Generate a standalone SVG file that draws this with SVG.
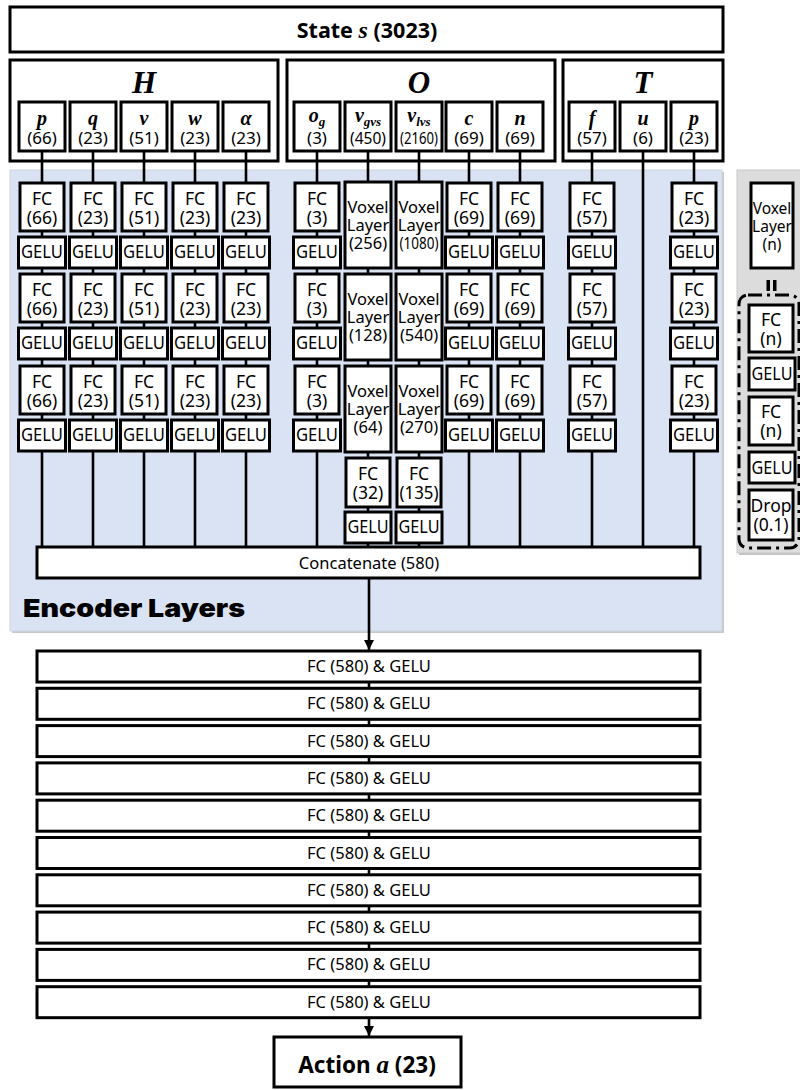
<svg xmlns="http://www.w3.org/2000/svg" width="800" height="1090" viewBox="0 0 800 1090">
<style>
.bx{fill:#fff;stroke:#000;stroke-width:3}
.ln{stroke:#000;stroke-width:2.6;fill:none}
.t{font-family:"Noto Sans","Open Sans",sans-serif;font-size:17.5px;text-anchor:middle;fill:#000}
.w{font-family:"Noto Sans","Open Sans",sans-serif;font-size:16.5px;text-anchor:middle;fill:#000}
.v{font-family:"Noto Sans","Open Sans",sans-serif;font-size:16.5px;text-anchor:middle;fill:#000}
.ts{font-family:"Noto Sans","Open Sans",sans-serif;font-size:17px;text-anchor:middle;fill:#000}
.m{font-family:"Liberation Serif",serif;font-style:italic;font-weight:bold;text-anchor:middle;fill:#000}
.big{font-family:"Noto Sans","Open Sans",sans-serif;font-weight:bold;text-anchor:middle;fill:#000}
</style>
<defs>
<marker id="ah" markerUnits="userSpaceOnUse" markerWidth="10" markerHeight="10" refX="10" refY="5" orient="auto" viewBox="0 0 10 10">
<path d="M0,0 L10,5 L0,10 Z" fill="#000"/>
</marker>
</defs>

<g id="state">
<rect class="bx" x="10" y="7" width="713" height="45"/>
<text class="big" x="367" y="38" font-size="21.5">State <tspan font-family="Liberation Serif,serif" font-style="italic" font-size="24">s</tspan> (3023)</text>
</g>

<g id="group-H"><rect class="bx" x="10" y="60" width="268" height="101"/><text class="m" x="144" y="93" font-size="31">H</text></g>
<g id="group-O"><rect class="bx" x="287" y="60" width="268" height="101"/><text class="m" x="419" y="93" font-size="31">O</text></g>
<g id="group-T"><rect class="bx" x="563" y="60" width="160" height="101"/><text class="m" x="643" y="93" font-size="31">T</text></g>

<g id="encoder-bg">
<rect x="12" y="172" width="712" height="461" fill="#c8c8c8"/>
<rect x="10" y="170" width="712" height="461" fill="#dae3f3" stroke="#cdd5e3" stroke-width="1"/>
<text x="23" y="617" font-family="Inter,'Liberation Sans',sans-serif" font-weight="900" font-size="25" textLength="222" lengthAdjust="spacingAndGlyphs" fill="#000">Encoder Layers</text>
</g>

<g id="legend">
<rect x="739" y="172" width="70" height="383" fill="#c4c4c4"/>
<rect x="737" y="170" width="70" height="383" fill="#dcdcdc" stroke="#c8c8c8" stroke-width="1"/>
<rect x="739" y="295" width="60" height="253" rx="9" fill="none" stroke="#000" stroke-width="3" stroke-dasharray="14,5,3,5"/>
<rect x="766.5" y="280" width="3.5" height="11" fill="#000"/>
<rect x="773" y="280" width="3.5" height="11" fill="#000"/>
<rect class="bx" x="751" y="183" width="42" height="85"/>
<text class="v" x="772" y="214" style="font-size:15.5px">Voxel</text>
<text class="v" x="772" y="232" style="font-size:15.5px">Layer</text>
<text class="v" x="772" y="250" style="font-size:15.5px">(n)</text>
<rect class="bx" x="749" y="305" width="44" height="47"/>
<text class="t" x="771" y="326">FC</text><text class="t" x="771" y="345">(n)</text>
<rect class="bx" x="749" y="358" width="46" height="32"/>
<text class="t" x="772" y="380" textLength="41" lengthAdjust="spacingAndGlyphs">GELU</text>
<rect class="bx" x="749" y="397" width="44" height="48"/>
<text class="t" x="771" y="418">FC</text><text class="t" x="771" y="437">(n)</text>
<rect class="bx" x="749" y="452" width="46" height="31"/>
<text class="t" x="772" y="474" textLength="41" lengthAdjust="spacingAndGlyphs">GELU</text>
<rect class="bx" x="749" y="490" width="44" height="50"/>
<text class="t" x="771" y="512">Drop</text><text class="t" x="771" y="531">(0.1)</text>
</g>

<g id="connectors">
<line class="ln" x1="42" y1="151" x2="42" y2="547"/>
<line class="ln" x1="93" y1="151" x2="93" y2="547"/>
<line class="ln" x1="144" y1="151" x2="144" y2="547"/>
<line class="ln" x1="195" y1="151" x2="195" y2="547"/>
<line class="ln" x1="246" y1="151" x2="246" y2="547"/>
<line class="ln" x1="317" y1="151" x2="317" y2="547"/>
<line class="ln" x1="368" y1="151" x2="368" y2="547"/>
<line class="ln" x1="419" y1="151" x2="419" y2="547"/>
<line class="ln" x1="469" y1="151" x2="469" y2="547"/>
<line class="ln" x1="520" y1="151" x2="520" y2="547"/>
<line class="ln" x1="592" y1="151" x2="592" y2="547"/>
<line class="ln" x1="643" y1="151" x2="643" y2="547"/>
<line class="ln" x1="694" y1="151" x2="694" y2="547"/>
<line class="ln" x1="369" y1="578" x2="369" y2="650" marker-end="url(#ah)"/>
<line class="ln" x1="369" y1="682" x2="369" y2="1036" marker-end="url(#ah)"/>
</g>

<g id="h-p"><rect class="bx" x="19" y="102" width="46" height="49"/><text class="m" x="42" y="125" font-size="20">p</text><text class="ts" x="42" y="144">(66)</text></g>
<g id="h-q"><rect class="bx" x="70" y="102" width="46" height="49"/><text class="m" x="93" y="125" font-size="20">q</text><text class="ts" x="93" y="144">(23)</text></g>
<g id="h-v"><rect class="bx" x="121" y="102" width="46" height="49"/><text class="m" x="144" y="125" font-size="20">v</text><text class="ts" x="144" y="144">(51)</text></g>
<g id="h-w"><rect class="bx" x="172" y="102" width="46" height="49"/><text class="m" x="195" y="125" font-size="20">w</text><text class="ts" x="195" y="144">(23)</text></g>
<g id="h-alpha"><rect class="bx" x="223" y="102" width="46" height="49"/><text class="m" x="246" y="125" font-size="20">α</text><text class="ts" x="246" y="144">(23)</text></g>
<g id="o-og"><rect class="bx" x="294" y="102" width="46" height="49"/><text class="m" x="317" y="122" font-size="20">o<tspan font-size="13" dy="4">g</tspan></text><text class="ts" x="317" y="144">(3)</text></g>
<g id="o-vgvs"><rect class="bx" x="345" y="102" width="46" height="49"/><text class="m" x="368" y="122" font-size="20">v<tspan font-size="13" dy="4">gvs</tspan></text><text class="ts" x="368" y="144" textLength="36" lengthAdjust="spacingAndGlyphs">(450)</text></g>
<g id="o-vlvs"><rect class="bx" x="396" y="102" width="46" height="49"/><text class="m" x="419" y="122" font-size="20">v<tspan font-size="13" dy="4">lvs</tspan></text><text class="ts" x="419" y="144" textLength="38" lengthAdjust="spacingAndGlyphs">(2160)</text></g>
<g id="o-c"><rect class="bx" x="446" y="102" width="46" height="49"/><text class="m" x="469" y="125" font-size="20">c</text><text class="ts" x="469" y="144">(69)</text></g>
<g id="o-n"><rect class="bx" x="497" y="102" width="46" height="49"/><text class="m" x="520" y="125" font-size="20">n</text><text class="ts" x="520" y="144">(69)</text></g>
<g id="t-f"><rect class="bx" x="569" y="102" width="46" height="49"/><text class="m" x="592" y="125" font-size="20">f</text><text class="ts" x="592" y="144">(57)</text></g>
<g id="t-u"><rect class="bx" x="620" y="102" width="46" height="49"/><text class="m" x="643" y="125" font-size="20">u</text><text class="ts" x="643" y="144">(6)</text></g>
<g id="t-p"><rect class="bx" x="671" y="102" width="46" height="49"/><text class="m" x="694" y="125" font-size="20">p</text><text class="ts" x="694" y="144">(23)</text></g>

<g id="col-h-p">
<rect class="bx" x="20" y="183" width="44" height="48"/><text class="t" x="42" y="205">FC</text><text class="t" x="42" y="224">(66)</text>
<rect class="bx" x="18.5" y="237" width="47" height="31"/><text class="t" x="42" y="258" textLength="42" lengthAdjust="spacingAndGlyphs">GELU</text>
<rect class="bx" x="20" y="274" width="44" height="48"/><text class="t" x="42" y="296">FC</text><text class="t" x="42" y="315">(66)</text>
<rect class="bx" x="18.5" y="328" width="47" height="31"/><text class="t" x="42" y="349" textLength="42" lengthAdjust="spacingAndGlyphs">GELU</text>
<rect class="bx" x="20" y="366" width="44" height="48"/><text class="t" x="42" y="388">FC</text><text class="t" x="42" y="407">(66)</text>
<rect class="bx" x="18.5" y="420" width="47" height="31"/><text class="t" x="42" y="441" textLength="42" lengthAdjust="spacingAndGlyphs">GELU</text>
</g>
<g id="col-h-q">
<rect class="bx" x="71" y="183" width="44" height="48"/><text class="t" x="93" y="205">FC</text><text class="t" x="93" y="224">(23)</text>
<rect class="bx" x="69.5" y="237" width="47" height="31"/><text class="t" x="93" y="258" textLength="42" lengthAdjust="spacingAndGlyphs">GELU</text>
<rect class="bx" x="71" y="274" width="44" height="48"/><text class="t" x="93" y="296">FC</text><text class="t" x="93" y="315">(23)</text>
<rect class="bx" x="69.5" y="328" width="47" height="31"/><text class="t" x="93" y="349" textLength="42" lengthAdjust="spacingAndGlyphs">GELU</text>
<rect class="bx" x="71" y="366" width="44" height="48"/><text class="t" x="93" y="388">FC</text><text class="t" x="93" y="407">(23)</text>
<rect class="bx" x="69.5" y="420" width="47" height="31"/><text class="t" x="93" y="441" textLength="42" lengthAdjust="spacingAndGlyphs">GELU</text>
</g>
<g id="col-h-v">
<rect class="bx" x="122" y="183" width="44" height="48"/><text class="t" x="144" y="205">FC</text><text class="t" x="144" y="224">(51)</text>
<rect class="bx" x="120.5" y="237" width="47" height="31"/><text class="t" x="144" y="258" textLength="42" lengthAdjust="spacingAndGlyphs">GELU</text>
<rect class="bx" x="122" y="274" width="44" height="48"/><text class="t" x="144" y="296">FC</text><text class="t" x="144" y="315">(51)</text>
<rect class="bx" x="120.5" y="328" width="47" height="31"/><text class="t" x="144" y="349" textLength="42" lengthAdjust="spacingAndGlyphs">GELU</text>
<rect class="bx" x="122" y="366" width="44" height="48"/><text class="t" x="144" y="388">FC</text><text class="t" x="144" y="407">(51)</text>
<rect class="bx" x="120.5" y="420" width="47" height="31"/><text class="t" x="144" y="441" textLength="42" lengthAdjust="spacingAndGlyphs">GELU</text>
</g>
<g id="col-h-w">
<rect class="bx" x="173" y="183" width="44" height="48"/><text class="t" x="195" y="205">FC</text><text class="t" x="195" y="224">(23)</text>
<rect class="bx" x="171.5" y="237" width="47" height="31"/><text class="t" x="195" y="258" textLength="42" lengthAdjust="spacingAndGlyphs">GELU</text>
<rect class="bx" x="173" y="274" width="44" height="48"/><text class="t" x="195" y="296">FC</text><text class="t" x="195" y="315">(23)</text>
<rect class="bx" x="171.5" y="328" width="47" height="31"/><text class="t" x="195" y="349" textLength="42" lengthAdjust="spacingAndGlyphs">GELU</text>
<rect class="bx" x="173" y="366" width="44" height="48"/><text class="t" x="195" y="388">FC</text><text class="t" x="195" y="407">(23)</text>
<rect class="bx" x="171.5" y="420" width="47" height="31"/><text class="t" x="195" y="441" textLength="42" lengthAdjust="spacingAndGlyphs">GELU</text>
</g>
<g id="col-h-alpha">
<rect class="bx" x="224" y="183" width="44" height="48"/><text class="t" x="246" y="205">FC</text><text class="t" x="246" y="224">(23)</text>
<rect class="bx" x="222.5" y="237" width="47" height="31"/><text class="t" x="246" y="258" textLength="42" lengthAdjust="spacingAndGlyphs">GELU</text>
<rect class="bx" x="224" y="274" width="44" height="48"/><text class="t" x="246" y="296">FC</text><text class="t" x="246" y="315">(23)</text>
<rect class="bx" x="222.5" y="328" width="47" height="31"/><text class="t" x="246" y="349" textLength="42" lengthAdjust="spacingAndGlyphs">GELU</text>
<rect class="bx" x="224" y="366" width="44" height="48"/><text class="t" x="246" y="388">FC</text><text class="t" x="246" y="407">(23)</text>
<rect class="bx" x="222.5" y="420" width="47" height="31"/><text class="t" x="246" y="441" textLength="42" lengthAdjust="spacingAndGlyphs">GELU</text>
</g>
<g id="col-o-og">
<rect class="bx" x="295" y="183" width="44" height="48"/><text class="t" x="317" y="205">FC</text><text class="t" x="317" y="224">(3)</text>
<rect class="bx" x="293.5" y="237" width="47" height="31"/><text class="t" x="317" y="258" textLength="42" lengthAdjust="spacingAndGlyphs">GELU</text>
<rect class="bx" x="295" y="274" width="44" height="48"/><text class="t" x="317" y="296">FC</text><text class="t" x="317" y="315">(3)</text>
<rect class="bx" x="293.5" y="328" width="47" height="31"/><text class="t" x="317" y="349" textLength="42" lengthAdjust="spacingAndGlyphs">GELU</text>
<rect class="bx" x="295" y="366" width="44" height="48"/><text class="t" x="317" y="388">FC</text><text class="t" x="317" y="407">(3)</text>
<rect class="bx" x="293.5" y="420" width="47" height="31"/><text class="t" x="317" y="441" textLength="42" lengthAdjust="spacingAndGlyphs">GELU</text>
</g>
<g id="col-o-vgvs">
<rect class="bx" x="345" y="182" width="46" height="86"/><text class="v" x="368" y="213">Voxel</text><text class="v" x="368" y="231">Layer</text><text class="v" x="368" y="249">(256)</text>
<rect class="bx" x="345" y="274" width="46" height="86"/><text class="v" x="368" y="305">Voxel</text><text class="v" x="368" y="323">Layer</text><text class="v" x="368" y="341">(128)</text>
<rect class="bx" x="345" y="366" width="46" height="86"/><text class="v" x="368" y="397">Voxel</text><text class="v" x="368" y="415">Layer</text><text class="v" x="368" y="433">(64)</text>
<rect class="bx" x="346" y="458" width="44" height="49"/><text class="t" x="368" y="480">FC</text><text class="t" x="368" y="499">(32)</text>
<rect class="bx" x="345" y="512" width="46" height="31"/><text class="t" x="368" y="533" textLength="41" lengthAdjust="spacingAndGlyphs">GELU</text>
</g>
<g id="col-o-vlvs">
<rect class="bx" x="396" y="182" width="46" height="86"/><text class="v" x="419" y="213">Voxel</text><text class="v" x="419" y="231">Layer</text><text class="v" x="419" y="249" textLength="39" lengthAdjust="spacingAndGlyphs">(1080)</text>
<rect class="bx" x="396" y="274" width="46" height="86"/><text class="v" x="419" y="305">Voxel</text><text class="v" x="419" y="323">Layer</text><text class="v" x="419" y="341">(540)</text>
<rect class="bx" x="396" y="366" width="46" height="86"/><text class="v" x="419" y="397">Voxel</text><text class="v" x="419" y="415">Layer</text><text class="v" x="419" y="433">(270)</text>
<rect class="bx" x="397" y="458" width="44" height="49"/><text class="t" x="419" y="480">FC</text><text class="t" x="419" y="499" textLength="39" lengthAdjust="spacingAndGlyphs">(135)</text>
<rect class="bx" x="396" y="512" width="46" height="31"/><text class="t" x="419" y="533" textLength="41" lengthAdjust="spacingAndGlyphs">GELU</text>
</g>
<g id="col-o-c">
<rect class="bx" x="447" y="183" width="44" height="48"/><text class="t" x="469" y="205">FC</text><text class="t" x="469" y="224">(69)</text>
<rect class="bx" x="445.5" y="237" width="47" height="31"/><text class="t" x="469" y="258" textLength="42" lengthAdjust="spacingAndGlyphs">GELU</text>
<rect class="bx" x="447" y="274" width="44" height="48"/><text class="t" x="469" y="296">FC</text><text class="t" x="469" y="315">(69)</text>
<rect class="bx" x="445.5" y="328" width="47" height="31"/><text class="t" x="469" y="349" textLength="42" lengthAdjust="spacingAndGlyphs">GELU</text>
<rect class="bx" x="447" y="366" width="44" height="48"/><text class="t" x="469" y="388">FC</text><text class="t" x="469" y="407">(69)</text>
<rect class="bx" x="445.5" y="420" width="47" height="31"/><text class="t" x="469" y="441" textLength="42" lengthAdjust="spacingAndGlyphs">GELU</text>
</g>
<g id="col-o-n">
<rect class="bx" x="498" y="183" width="44" height="48"/><text class="t" x="520" y="205">FC</text><text class="t" x="520" y="224">(69)</text>
<rect class="bx" x="496.5" y="237" width="47" height="31"/><text class="t" x="520" y="258" textLength="42" lengthAdjust="spacingAndGlyphs">GELU</text>
<rect class="bx" x="498" y="274" width="44" height="48"/><text class="t" x="520" y="296">FC</text><text class="t" x="520" y="315">(69)</text>
<rect class="bx" x="496.5" y="328" width="47" height="31"/><text class="t" x="520" y="349" textLength="42" lengthAdjust="spacingAndGlyphs">GELU</text>
<rect class="bx" x="498" y="366" width="44" height="48"/><text class="t" x="520" y="388">FC</text><text class="t" x="520" y="407">(69)</text>
<rect class="bx" x="496.5" y="420" width="47" height="31"/><text class="t" x="520" y="441" textLength="42" lengthAdjust="spacingAndGlyphs">GELU</text>
</g>
<g id="col-t-f">
<rect class="bx" x="570" y="183" width="44" height="48"/><text class="t" x="592" y="205">FC</text><text class="t" x="592" y="224">(57)</text>
<rect class="bx" x="568.5" y="237" width="47" height="31"/><text class="t" x="592" y="258" textLength="42" lengthAdjust="spacingAndGlyphs">GELU</text>
<rect class="bx" x="570" y="274" width="44" height="48"/><text class="t" x="592" y="296">FC</text><text class="t" x="592" y="315">(57)</text>
<rect class="bx" x="568.5" y="328" width="47" height="31"/><text class="t" x="592" y="349" textLength="42" lengthAdjust="spacingAndGlyphs">GELU</text>
<rect class="bx" x="570" y="366" width="44" height="48"/><text class="t" x="592" y="388">FC</text><text class="t" x="592" y="407">(57)</text>
<rect class="bx" x="568.5" y="420" width="47" height="31"/><text class="t" x="592" y="441" textLength="42" lengthAdjust="spacingAndGlyphs">GELU</text>
</g>
<g id="col-t-p">
<rect class="bx" x="672" y="183" width="44" height="48"/><text class="t" x="694" y="205">FC</text><text class="t" x="694" y="224">(23)</text>
<rect class="bx" x="670.5" y="237" width="47" height="31"/><text class="t" x="694" y="258" textLength="42" lengthAdjust="spacingAndGlyphs">GELU</text>
<rect class="bx" x="672" y="274" width="44" height="48"/><text class="t" x="694" y="296">FC</text><text class="t" x="694" y="315">(23)</text>
<rect class="bx" x="670.5" y="328" width="47" height="31"/><text class="t" x="694" y="349" textLength="42" lengthAdjust="spacingAndGlyphs">GELU</text>
<rect class="bx" x="672" y="366" width="44" height="48"/><text class="t" x="694" y="388">FC</text><text class="t" x="694" y="407">(23)</text>
<rect class="bx" x="670.5" y="420" width="47" height="31"/><text class="t" x="694" y="441" textLength="42" lengthAdjust="spacingAndGlyphs">GELU</text>
</g>

<g id="concat"><rect class="bx" x="37" y="547" width="663" height="31"/><text class="w" x="369" y="569">Concatenate (580)</text></g>

<g id="fc1"><rect class="bx" x="37" y="651" width="663" height="31"/><text class="w" x="369" y="672">FC (580) &amp; GELU</text></g>
<g id="fc2"><rect class="bx" x="37" y="688.3" width="663" height="31"/><text class="w" x="369" y="709.3">FC (580) &amp; GELU</text></g>
<g id="fc3"><rect class="bx" x="37" y="725.6" width="663" height="31"/><text class="w" x="369" y="746.6">FC (580) &amp; GELU</text></g>
<g id="fc4"><rect class="bx" x="37" y="762.9" width="663" height="31"/><text class="w" x="369" y="783.9">FC (580) &amp; GELU</text></g>
<g id="fc5"><rect class="bx" x="37" y="800.2" width="663" height="31"/><text class="w" x="369" y="821.2">FC (580) &amp; GELU</text></g>
<g id="fc6"><rect class="bx" x="37" y="837.5" width="663" height="31"/><text class="w" x="369" y="858.5">FC (580) &amp; GELU</text></g>
<g id="fc7"><rect class="bx" x="37" y="874.8" width="663" height="31"/><text class="w" x="369" y="895.8">FC (580) &amp; GELU</text></g>
<g id="fc8"><rect class="bx" x="37" y="912.1" width="663" height="31"/><text class="w" x="369" y="933.1">FC (580) &amp; GELU</text></g>
<g id="fc9"><rect class="bx" x="37" y="949.4" width="663" height="31"/><text class="w" x="369" y="970.4">FC (580) &amp; GELU</text></g>
<g id="fc10"><rect class="bx" x="37" y="986.7" width="663" height="31"/><text class="w" x="369" y="1007.7">FC (580) &amp; GELU</text></g>

<g id="action">
<rect class="bx" x="274" y="1037" width="187" height="50"/>
<text class="big" x="367" y="1073" font-size="22.5">Action <tspan font-family="Liberation Serif,serif" font-style="italic" font-size="25">a</tspan> (23)</text>
</g>
</svg>
